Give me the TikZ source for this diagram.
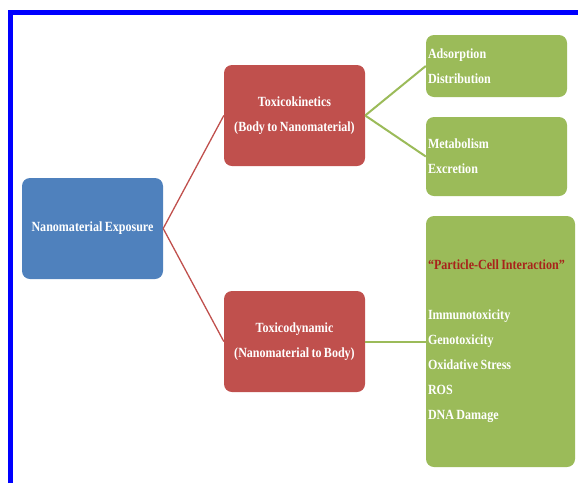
\documentclass[tikz,border=0pt]{standalone}
\usepackage{fontspec}
\setmainfont{Liberation Serif}[FakeStretch=0.86, WordSpace=0.8]
\usepackage{xcolor}
\definecolor{boxblue}{HTML}{4F81BD}
\definecolor{boxred}{HTML}{C0504D}
\definecolor{boxgreen}{HTML}{9BBB59}
\definecolor{quotered}{HTML}{A8231B}

\begin{document}
\begin{tikzpicture}[x=1pt,y=-1pt,
  card/.style={rounded corners=8pt, text=white, inner sep=2pt,
    font=\bfseries\fontsize{14}{25}\selectfont},
  bluecard/.style={card, fill=boxblue, minimum width=141pt, minimum height=101pt},
  redcard/.style={card, fill=boxred, align=center, minimum width=141pt, minimum height=101pt},
  greencard/.style={card, fill=boxgreen, align=flush left},
  redlink/.style={draw=boxred, line width=1.3pt},
  greenlink/.style={draw=boxgreen, line width=2pt}]
  \useasboundingbox (0,0) rectangle (578,483);

  % frame, only the top and left edges show
  \draw[blue, line width=4.5pt] (10.5,483) -- (10.5,12.5) -- (578,12.5);

  % the boxes
  \node[bluecard] (expo) at (92.5,228.5) {Nanomaterial Exposure};
  \node[redcard] (kin) at (294.5,115.5) {Toxicokinetics\\(Body to Nanomaterial)};
  \node[redcard] (dyn) at (294.5,341.5) {Toxicodynamic\\(Nanomaterial to Body)};
  \node[greencard, text width=137pt, minimum height=62pt] (adis) at (496.5,66)
    {Adsorption\\Distribution};
  \node[greencard, text width=137pt, minimum height=79pt] (mexc) at (496.5,156.5)
    {Metabolism\\Excretion};
  \node[greencard, text width=145pt, minimum height=251pt] (pcell) at (500.5,341.5)
    {{\color{quotered}“Particle-Cell Interaction”}\\[25pt]
     Immunotoxicity\\Genotoxicity\\Oxidative Stress\\ROS\\DNA Damage};

  % connectors
  \draw[redlink] (expo.east) -- (kin.west);
  \draw[redlink] (expo.east) -- (dyn.west);
  \draw[greenlink] (kin.east) -- (adis.west);
  \draw[greenlink] (kin.east) -- (mexc.west);
  \draw[greenlink] (dyn.east) -- (pcell.west);
\end{tikzpicture}
\end{document}
